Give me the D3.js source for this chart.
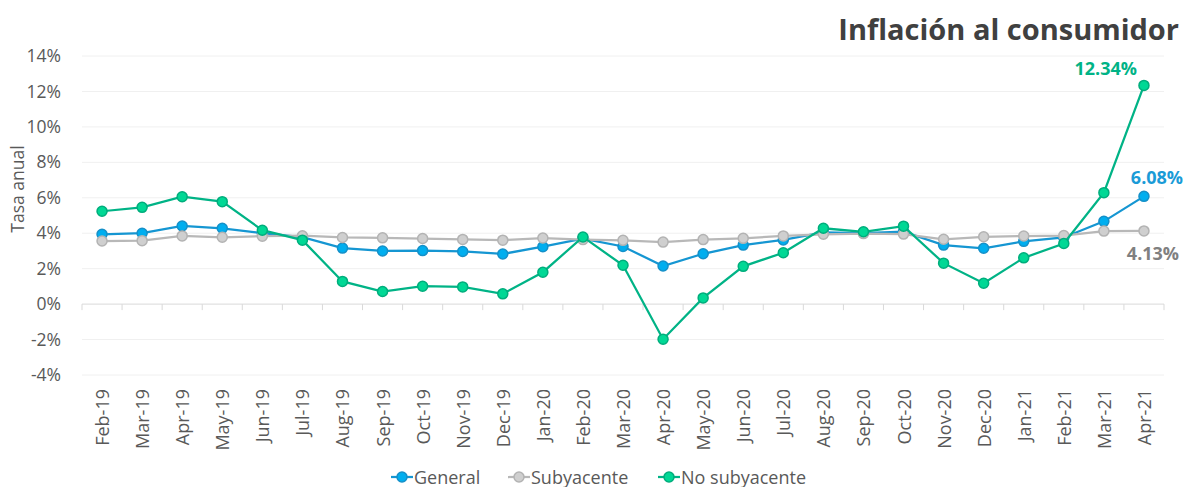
<!DOCTYPE html>
<html>
<head>
<meta charset="utf-8">
<script src="https://cdn.jsdelivr.net/npm/d3@7"></script>
<style>
  body { margin: 0; background: #fff; }
  svg { font-family: "Open Sans", "Noto Sans", sans-serif; }
</style>
</head>
<body>
<div id="chart"></div>
<script>
// meses
const months = [
  "Feb-19", "Mar-19", "Apr-19", "May-19", "Jun-19", "Jul-19", "Aug-19", "Sep-19",
  "Oct-19", "Nov-19", "Dec-19", "Jan-20", "Feb-20", "Mar-20", "Apr-20", "May-20",
  "Jun-20", "Jul-20", "Aug-20", "Sep-20", "Oct-20", "Nov-20", "Dec-20", "Jan-21",
  "Feb-21", "Mar-21", "Apr-21"
];

const general = [
  3.94, 4.00, 4.41, 4.28, 4.00, 3.78, 3.16, 3.00, 3.02, 2.97, 2.83, 3.24, 3.70, 3.25,
  2.15, 2.84, 3.33, 3.62, 4.05, 4.01, 4.09, 3.33, 3.15, 3.54, 3.76, 4.67, 6.08
];

const subyacente = [
  3.56, 3.58, 3.85, 3.77, 3.83, 3.86, 3.76, 3.74, 3.70, 3.65, 3.61, 3.73, 3.64, 3.60,
  3.50, 3.64, 3.71, 3.85, 3.94, 3.98, 3.95, 3.66, 3.80, 3.84, 3.87, 4.12, 4.13
];

const noSubyacente = [
  5.24, 5.46, 6.06, 5.78, 4.17, 3.61, 1.28, 0.71, 1.01, 0.97, 0.58, 1.80, 3.79, 2.19,
  -1.98, 0.35, 2.13, 2.90, 4.28, 4.08, 4.40, 2.31, 1.18, 2.61, 3.42, 6.29, 12.34
];

const yTicks = [-4, -2, 0, 2, 4, 6, 8, 10, 12, 14];

const series = [
  { name: "General", values: general, line: "#1596d2", fill: "#00aeef", stroke: "#1590c8", label: "#1a9bd7" },
  { name: "Subyacente", values: subyacente, line: "#b8b8b8", fill: "#cfcfcf", stroke: "#b3b3b3", label: "#808080" },
  { name: "No subyacente", values: noSubyacente, line: "#00b386", fill: "#00d895", stroke: "#00ad7c", label: "#00b386" }
];

const width = 1190, height = 487;
const padding = { top: 56, left: 82, bottom: 112, right: 26 };

const svg = d3.select("#chart").append("svg")
  .attr("width", width)
  .attr("height", height);

const x = d3.scaleBand()
  .domain(months)
  .range([padding.left, width - padding.right]);

const y = d3.scaleLinear()
  .domain([-4, 14])
  .range([height - padding.bottom, padding.top]);

// líneas de cuadrícula
svg.append("g")
  .selectAll("line")
  .data(yTicks.filter((t) => t !== 0))
  .enter()
  .append("line")
  .attr("x1", padding.left)
  .attr("x2", width - padding.right)
  .attr("y1", (d) => y(d))
  .attr("y2", (d) => y(d))
  .attr("stroke", "#f0f0f0")
  .attr("stroke-width", 1);

// eje Y
const yAxis = svg.append("g")
  .attr("transform", `translate(${padding.left}, 0)`)
  .call(d3.axisLeft(y).tickValues(yTicks).tickSize(0).tickPadding(21).tickFormat((d) => d + "%"));
yAxis.attr("font-family", null);
yAxis.select(".domain").remove();
yAxis.selectAll("text")
  .attr("fill", "#595959")
  .style("font-size", "17.5px");

// eje en 0% con marcas entre categorías
const zeroY = y(0);
svg.append("line")
  .attr("x1", padding.left)
  .attr("x2", width - padding.right)
  .attr("y1", zeroY)
  .attr("y2", zeroY)
  .attr("stroke", "#d9d9d9")
  .attr("stroke-width", 1);

svg.append("g")
  .selectAll("line")
  .data(months.concat(["end"]))
  .enter()
  .append("line")
  .attr("x1", (d, i) => padding.left + i * x.step())
  .attr("x2", (d, i) => padding.left + i * x.step())
  .attr("y1", zeroY)
  .attr("y2", zeroY + 6)
  .attr("stroke", "#d9d9d9");

// etiquetas de meses
svg.append("g")
  .selectAll("text")
  .data(months)
  .enter()
  .append("text")
  .attr("transform", (d) => `translate(${x(d) + x.bandwidth() / 2 + 7}, ${height - padding.bottom + 14}) rotate(-90)`)
  .attr("text-anchor", "end")
  .attr("fill", "#595959")
  .style("font-size", "18px")
  .text((d) => d);

// título eje Y
svg.append("text")
  .attr("transform", `translate(24, 189) rotate(-90)`)
  .attr("text-anchor", "middle")
  .attr("fill", "#595959")
  .style("font-size", "17.5px")
  .text("Tasa anual");

// series
const line = d3.line()
  .x((d, i) => x(months[i]) + x.bandwidth() / 2)
  .y((d) => y(d));

series.forEach((s) => {
  const g = svg.append("g");
  g.append("path")
    .datum(s.values)
    .attr("fill", "none")
    .attr("stroke", s.line)
    .attr("stroke-width", 2.25)
    .attr("d", line);
  g.selectAll("circle")
    .data(s.values)
    .enter()
    .append("circle")
    .attr("cx", (d, i) => x(months[i]) + x.bandwidth() / 2)
    .attr("cy", (d) => y(d))
    .attr("r", 5)
    .attr("fill", s.fill)
    .attr("stroke", s.stroke)
    .attr("stroke-width", 1.5);
});

// etiquetas finales
const lastX = x(months[months.length - 1]) + x.bandwidth() / 2;
const endLabels = [
  { s: series[2], dx: -7, dy: -10, anchor: "end" },
  { s: series[0], dx: 13, dy: -12, anchor: "middle" },
  { s: series[1], dx: 9, dy: 29, anchor: "middle" }
];
endLabels.forEach((l) => {
  const v = l.s.values[l.s.values.length - 1];
  svg.append("text")
    .attr("x", lastX + l.dx)
    .attr("y", y(v) + l.dy)
    .attr("text-anchor", l.anchor)
    .attr("fill", l.s.label)
    .style("font-size", "18px")
    .style("font-weight", "bold")
    .text(v.toFixed(2) + "%");
});

// título
svg.append("text")
  .attr("x", 1179)
  .attr("y", 40)
  .attr("text-anchor", "end")
  .attr("fill", "#404040")
  .style("font-size", "29px")
  .style("font-weight", "bold")
  .text("Inflación al consumidor");

// leyenda
const legendX = [391, 508, 658];
const legend = svg.append("g");
series.forEach((s, i) => {
  const lg = legend.append("g").attr("transform", `translate(${legendX[i]}, 477)`);
  lg.append("line")
    .attr("x1", 0).attr("x2", 22)
    .attr("stroke", s.line)
    .attr("stroke-width", 2.25);
  lg.append("circle")
    .attr("cx", 11).attr("r", 5)
    .attr("fill", s.fill)
    .attr("stroke", s.stroke)
    .attr("stroke-width", 1.5);
  lg.append("text")
    .attr("x", 23)
    .attr("y", 6.5)
    .attr("fill", "#595959")
    .style("font-size", "18px")
    .text(s.name);
});
</script>
</body>
</html>
